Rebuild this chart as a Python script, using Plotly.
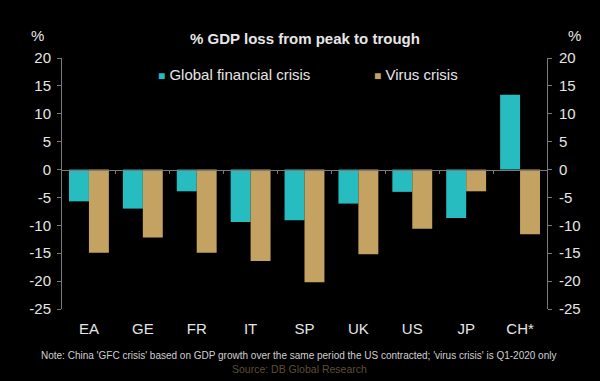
import plotly.graph_objects as go

categories = ["EA", "GE", "FR", "IT", "SP", "UK", "US", "JP", "CH*"]
gfc = [-5.7, -7.0, -3.9, -9.4, -9.1, -6.1, -4.0, -8.7, 13.4]
virus = [-14.9, -12.2, -14.9, -16.4, -20.2, -15.2, -10.6, -3.9, -11.6]
ytick_vals = [20, 15, 10, 5, 0, -5, -10, -15, -20, -25]
ytick_text = ["20", "15", "10", "5", "0", "-5", "-10", "-15", "-20", "-25"]

TEAL = "#27BDC0"
GOLD = "#C4A362"
TXT = "#E6E6E6"
AX = "#7a7a7a"
FONT = "Liberation Sans, Arial, sans-serif"

fig = go.Figure()
fig.add_trace(go.Bar(x=categories, y=gfc, name="Global financial crisis",
                     marker=dict(color=TEAL, line=dict(width=0))))
fig.add_trace(go.Bar(x=categories, y=virus, name="Virus crisis",
                     marker=dict(color=GOLD, line=dict(width=0))))

n = len(categories)
fig.update_layout(
    width=600, height=381,
    paper_bgcolor="#000000", plot_bgcolor="#000000",
    margin=dict(l=62, r=53, t=58, b=71.5),
    font=dict(family=FONT, color=TXT, size=15),
    showlegend=False,
    barmode="group", bargap=0.26, bargroupgap=0,
    title=dict(text="<b>% GDP loss from peak to trough</b>", x=305/600, xref="container",
               xanchor="center", y=1-39/381, yanchor="middle",
               font=dict(size=15, color=TXT, family=FONT)),
    xaxis=dict(type="category", categoryarray=categories, range=[-0.5, n-0.5],
               showline=False, showgrid=False, zeroline=False, ticks="",
               ticklabelstandoff=9,
               tickfont=dict(size=15, color=TXT)),
    xaxis2=dict(overlaying="x", anchor="free", position=25/45, range=[-0.5, n-0.5],
                showline=True, linecolor=AX, linewidth=1, showgrid=False, zeroline=False,
                tickvals=[i + 0.5 for i in range(n-1)], ticks="outside", ticklen=3,
                tickcolor=AX, showticklabels=False),
    yaxis=dict(range=[-25, 20], tickvals=ytick_vals, ticktext=ytick_text,
               showline=True, linecolor=AX, linewidth=1, showgrid=False, zeroline=False,
               ticks="outside", ticklen=4, tickcolor=AX, ticklabelstandoff=3,
               tickfont=dict(size=15, color=TXT)),
    yaxis2=dict(matches="y", overlaying="y", side="right", anchor="x",
                range=[-25, 20], tickvals=ytick_vals, ticktext=ytick_text,
                showline=True, linecolor=AX, linewidth=1, showgrid=False, zeroline=False,
                ticks="outside", ticklen=4, tickcolor=AX, ticklabelstandoff=4,
                tickfont=dict(size=15, color=TXT)),
)
# invisible trace to activate the secondary axes
fig.add_trace(go.Scatter(x=[0], y=[0], xaxis="x2", yaxis="y2", mode="markers",
                         marker=dict(opacity=0), hoverinfo="skip", showlegend=False))

def px_x(p):
    return (p - 62) / 485

def px_y(p):
    return 1 + (58 - p) / 251.5

annots = [
    dict(text="%", x=px_x(37), y=px_y(35), xanchor="center", yanchor="middle",
         font=dict(size=15, color=TXT)),
    dict(text="%", x=px_x(574), y=px_y(35), xanchor="center", yanchor="middle",
         font=dict(size=15, color=TXT)),
    dict(text=f'<span style="font-size:12px;color:{TEAL}">■</span> Global financial crisis',
         x=px_x(156), y=px_y(75), xanchor="left", yanchor="middle",
         font=dict(size=15, color=TXT)),
    dict(text=f'<span style="font-size:12px;color:{GOLD}">■</span> Virus crisis',
         x=px_x(372), y=px_y(75), xanchor="left", yanchor="middle",
         font=dict(size=15, color=TXT)),
    dict(text="Note: China 'GFC crisis' based on GDP growth over the same period the US contracted; 'virus crisis' is Q1-2020 only",
         x=px_x(298), y=px_y(356), xanchor="center", yanchor="middle",
         font=dict(size=10, color="#d0d0d0")),
    dict(text="Source: DB Global Research",
         x=px_x(299), y=px_y(370), xanchor="center", yanchor="middle",
         font=dict(size=10.5, color="#5e4e33")),
]
for a in annots:
    fig.add_annotation(xref="paper", yref="paper", showarrow=False, **a)

fig.write_html("out.html", config={"displayModeBar": False},
               post_script="document.body.style.margin='0';document.body.style.background='#000';")
